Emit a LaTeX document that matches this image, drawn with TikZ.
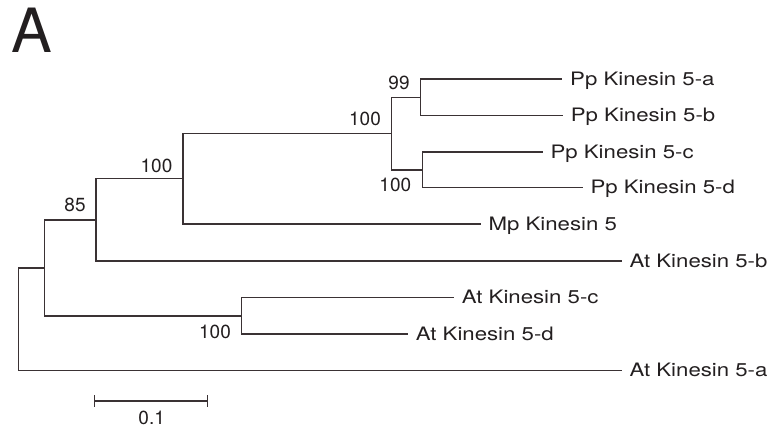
\documentclass[tikz,border=0pt]{standalone}
\usepackage{fontspec}
\setmainfont{TeX Gyre Heros}
\newfontfamily\labfont[FakeStretch=1.2]{TeX Gyre Heros}
\definecolor{ink}{HTML}{231F20}
\definecolor{branch}{HTML}{3A3234}
\tikzset{
  br/.style={draw=branch, line width=1.3pt, line cap=butt},
  leaf/.style={anchor=base west, inner sep=0pt, xshift=7.7pt, yshift=-6pt, text=ink, font=\labfont\fontsize{18.5}{20}\selectfont},
  boot/.style={inner sep=0pt, text=ink, font=\fontsize{19}{20}\selectfont},
}
\begin{document}
\begin{tikzpicture}[x=1pt, y=-1pt]
\useasboundingbox (0,0) rectangle (772,428);
% panel letter
\node[inner sep=0pt, text=ink, font=\fontsize{61}{62}\selectfont] (panel) at (31.5,30.3) {A};
% internal nodes
\coordinate (root) at (18.3,319.3);
\coordinate (n1) at (44.3,268);
\coordinate (n85) at (96,220);
\coordinate (n100a) at (183,178.8);
\coordinate (npp) at (391.7,133.5);
\coordinate (n99) at (420.3,97.35);
\coordinate (ncd) at (422.7,169.85);
\coordinate (natcd) at (241.7,315.85);
% leaf tips
\coordinate (ppa) at (562.3,79);
\coordinate (ppb) at (563,115.7);
\coordinate (ppc) at (542.7,152);
\coordinate (ppd) at (582.7,187.7);
\coordinate (mp) at (480.7,224);
\coordinate (atb) at (621.7,261);
\coordinate (atc) at (454,297.7);
\coordinate (atd) at (408,334);
\coordinate (ata) at (621.7,370.7);
% leaf labels
\node[leaf] (lppa) at (ppa) {Pp Kinesin 5-a};
\node[leaf] (lppb) at (ppb) {Pp Kinesin 5-b};
\node[leaf] (lppc) at (ppc) {Pp Kinesin 5-c};
\node[leaf] (lppd) at (ppd) {Pp Kinesin 5-d};
\node[leaf] (lmp) at (mp) {Mp Kinesin 5};
\node[leaf] (latb) at (atb) {At Kinesin 5-b};
\node[leaf] (latc) at (atc) {At Kinesin 5-c};
\node[leaf] (latd) at (atd) {At Kinesin 5-d};
\node[leaf] (lata) at (ata) {At Kinesin 5-a};
% branches
\draw[br] (root) |- (n1);
\draw[br] (root) |- (ata);
\draw[br] (n1) |- (n85);
\draw[br] (n1) |- (natcd);
\draw[br] (n85) |- (n100a);
\draw[br] (n85) |- (atb);
\draw[br] (n100a) |- (npp);
\draw[br] (n100a) |- (mp);
\draw[br] (npp) |- (n99);
\draw[br] (npp) |- (ncd);
\draw[br] (n99) |- (ppa);
\draw[br] (n99) |- (ppb);
\draw[br] (ncd) |- (ppc);
\draw[br] (ncd) |- (ppd);
\draw[br] (natcd) |- (atc);
\draw[br] (natcd) |- (atd);
% bootstrap values
\node[boot] (b85) at (75,205) {85};
\node[boot] (b100a) at (156.5,165.5) {100};
\node[boot] (b100pp) at (365,119) {100};
\node[boot] (b99) at (399,83.3) {99};
\node[boot] (b100cd) at (395.3,185.3) {100};
\node[boot] (b100at) at (215,331.7) {100};
% scale bar
\coordinate (sb1) at (94.7,401);
\coordinate (sb2) at (207.3,401);
\draw[br] (sb1) -- (sb2);
\draw[br] ([yshift=6pt]sb1) -- ([yshift=-6pt]sb1);
\draw[br] ([yshift=6pt]sb2) -- ([yshift=-6pt]sb2);
\node[boot] (sblab) at (151.7,418.3) {0.1};
\end{tikzpicture}
\end{document}
